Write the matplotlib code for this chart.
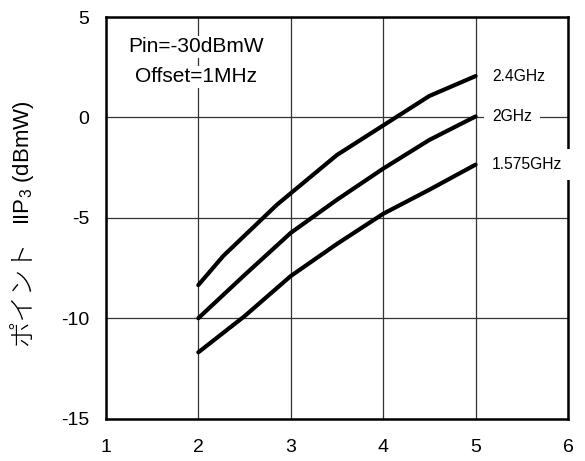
import matplotlib
matplotlib.use("Agg")
import matplotlib.pyplot as plt

plt.rcParams['font.family'] = ['Liberation Sans', 'Noto Sans CJK JP', 'DejaVu Sans']
plt.rcParams['mathtext.fontset'] = 'custom'
plt.rcParams['mathtext.rm'] = 'Liberation Sans'
plt.rcParams['axes.unicode_minus'] = False

# values
x_24 = [2, 2.27, 2.85, 3.5, 4, 4.5, 5]
iip3_24 = [-8.35, -6.9, -4.35, -1.87, -0.4, 1.07, 2.06]
x_20 = [2, 2.5, 3, 3.5, 4, 4.5, 5]
iip3_20 = [-10.0, -7.85, -5.75, -4.1, -2.55, -1.12, 0.05]
x_1575 = [2, 2.5, 3, 3.5, 4, 4.5, 5]
iip3_1575 = [-11.7, -9.9, -7.9, -6.3, -4.8, -3.6, -2.35]

curve_labels = ["2.4GHz", "2GHz", "1.575GHz"]
xticks = [1, 2, 3, 4, 5, 6]
yticks = [-15, -10, -5, 0, 5]

fig = plt.figure(figsize=(5.85, 4.61), dpi=100)
ax = fig.add_axes([0.181, 0.092, 0.790, 0.871])

for xs, ys in [(x_24, iip3_24), (x_20, iip3_20), (x_1575, iip3_1575)]:
    ax.plot(xs, ys, color='black', lw=3.0, solid_capstyle='round', zorder=4)

ax.set_xlim(1, 6)
ax.set_ylim(-15, 5)
ax.set_xticks(xticks)
ax.set_yticks(yticks)
ax.tick_params(length=0, labelsize=14)
ax.tick_params(axis='x', pad=14.5)
ax.tick_params(axis='y', pad=12)
ax.grid(True, color='#333333', lw=0.9)
ax.set_axisbelow(True)
for s in ax.spines.values():
    s.set_linewidth(1.8)

box = dict(facecolor='white', edgecolor='none', boxstyle='square,pad=0.5')
for lbl, ys in zip(curve_labels, [iip3_24, iip3_20, iip3_1575]):
    ax.text(5.18, ys[-1], lbl, fontsize=11.3, ha='left', va='center',
            bbox=box, zorder=6, clip_on=False)

ax.text(1.98, 3.53, "Pin=-30dBmW", fontsize=15, ha='center', va='center',
        bbox=dict(facecolor='white', edgecolor='none', pad=1), zorder=6)
ax.text(1.98, 2.03, "Offset=1MHz", fontsize=15, ha='center', va='center',
        bbox=dict(facecolor='white', edgecolor='none', pad=1), zorder=6)

# y label: katakana part and IIP3 part drawn separately so both fonts work
fig.text(22 / 585, 1 - 293 / 461, "ポイント", fontsize=19,
         family=['Noto Sans CJK JP', 'DejaVu Sans'], weight='light',
         rotation=90, ha='center', va='center')
fig.text(24 / 585, 1 - 163 / 461, "IIP$_3$ (dBmW)", fontsize=16,
         rotation=90, ha='center', va='center')

fig.savefig("out.png", dpi=100)
